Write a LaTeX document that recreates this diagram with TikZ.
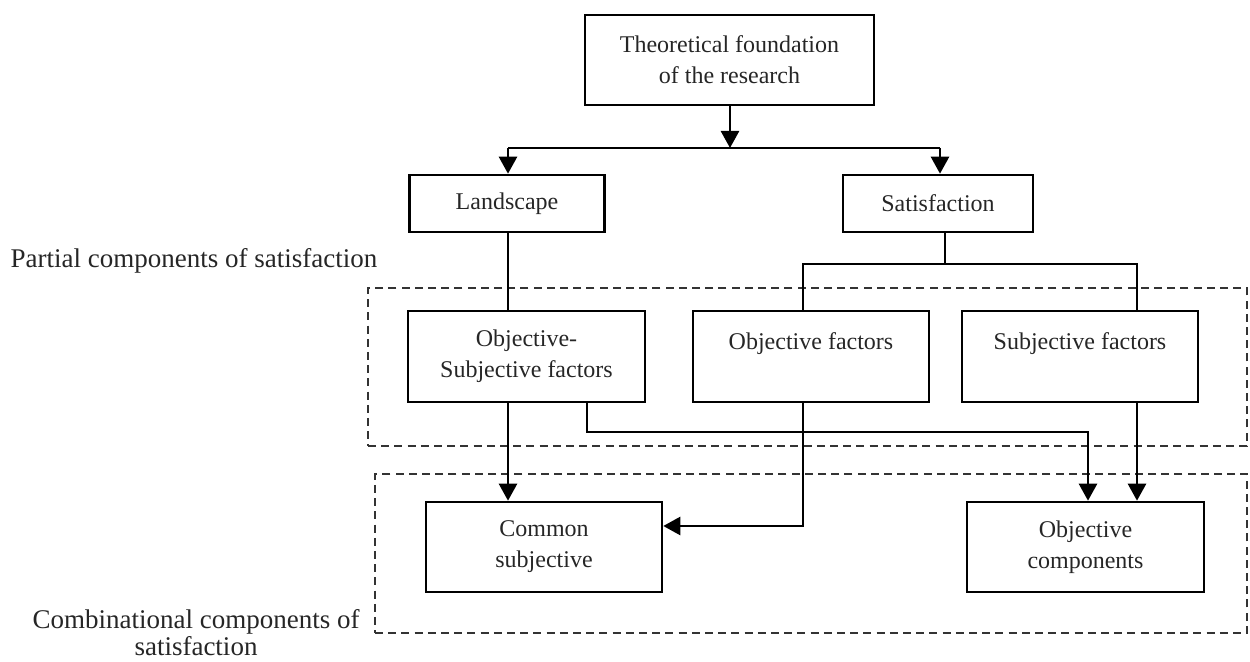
\documentclass[tikz,border=0pt]{standalone}
\usepackage{fontspec}
\setmainfont{Liberation Serif}
\usetikzlibrary{arrows.meta}
\begin{document}
\begin{tikzpicture}[x=0.5pt,y=-0.5pt,
  box/.style={draw, line width=1.3pt, align=center, inner sep=0pt, text=black!85, font=\fontsize{12}{15.5}\selectfont},
  conn/.style={line width=1.3pt},
  arr/.style={conn, -{Triangle[length=8.5pt,width=9pt]}},
  dbox/.style={draw, dash pattern=on 4pt off 2.6pt, line width=1.3pt, inner sep=0pt, black!80},
  lab/.style={font=\fontsize{13.5}{11}\selectfont, align=center, inner sep=0pt, text=black!85}]
\useasboundingbox (0,0) rectangle (1250,662);
% dashed groups
\node[dbox, minimum width=439.5pt, minimum height=79pt] (d1) at (807.5,367) {};
\node[dbox, minimum width=436pt, minimum height=79.5pt] (d2) at (811,553.5) {};
% boxes
\node[box, minimum width=144.5pt, minimum height=45pt] (top) at (729.5,60) {Theoretical foundation\\of the research};
\node[box, minimum width=97.5pt, minimum height=28.5pt] (land) at (507,203.5) {Landscape};
\node[box, minimum width=95pt, minimum height=28.5pt] (sat) at (938,203.5) {Satisfaction};
\node[box, minimum width=118.5pt, minimum height=45.5pt] (os) at (526.5,356.5) {Objective-\\Subjective factors};
\node[box, minimum width=118pt, minimum height=45.5pt] (of) at (811,356.5) {Objective factors\\\mbox{}};
\node[box, minimum width=118pt, minimum height=45.5pt] (sf) at (1080,356.5) {Subjective factors\\\mbox{}};
\node[box, minimum width=118pt, minimum height=45pt] (cs) at (544,547) {Common\\subjective};
\node[box, minimum width=118.5pt, minimum height=45pt] (oc) at (1085.5,547) {Objective\\components};
% labels
\node[lab, anchor=base] (l1) at (194,268) {Partial components of satisfaction};
\node[lab] (l2) at (196,633) {Combinational components of\\satisfaction};
% junction coordinates
\coordinate (j1) at (730,148);
\coordinate (jl) at (508,148);
\coordinate (jr) at (940,148);
\coordinate (s1) at (945,264);
\coordinate (h1) at (803,264);
\coordinate (h2) at (1137,264);
\coordinate (c2) at (587,432);
\coordinate (c3) at (1088,432);
\coordinate (c4) at (803,526);
% connectors
\draw[arr] (top.south -| j1) -- (j1);
\draw[conn] (jl) -- (jr);
\draw[arr] (jl) -- (land.north -| jl);
\draw[arr] (jr) -- (sat.north -| jr);
\draw[conn] (land.south -| jl) -- (os.north -| jl);
\draw[conn] (sat.south -| s1) -- (s1);
\draw[conn] (of.north -| h1) -- (h1) -- (h2) -- (sf.north -| h2);
\draw[arr] (os.south -| jl) -- (cs.north -| jl);
\draw[arr] (os.south -| c2) -- (c2) -- (c3) -- (oc.north -| c3);
\draw[arr] (of.south -| c4) -- (c4) -- (c4 -| cs.east);
\draw[arr] (sf.south -| h2) -- (oc.north -| h2);
\end{tikzpicture}
\end{document}
